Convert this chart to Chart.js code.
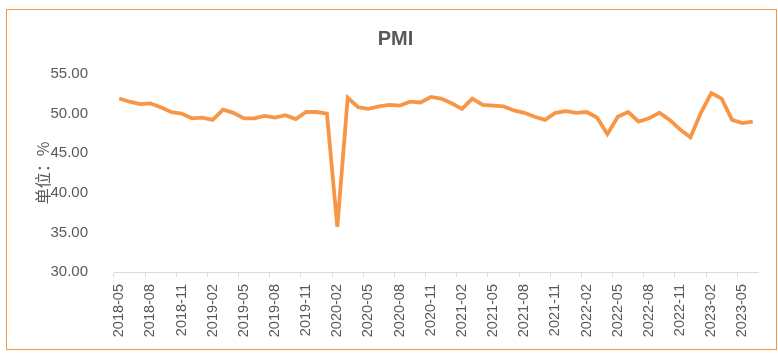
<!DOCTYPE html>
<html>
<head>
<meta charset="utf-8">
<script src="https://cdn.jsdelivr.net/npm/chart.js@4.4.0/dist/chart.umd.min.js"></script>
<style>
html,body{margin:0;padding:0;background:#fff;}
#wrap{position:relative;width:778px;height:359px;}
#frame{position:absolute;left:6px;top:9px;width:769px;height:339px;border:1px solid #F79646;pointer-events:none;}
canvas{position:absolute;left:0;top:0;}
</style>
</head>
<body>
<div id="wrap">
<canvas id="c" width="778" height="359"></canvas>
<div id="frame"></div>
</div>
<script>
const categories = [
 '2018-05','2018-06','2018-07','2018-08','2018-09','2018-10','2018-11','2018-12',
 '2019-01','2019-02','2019-03','2019-04','2019-05','2019-06','2019-07','2019-08','2019-09','2019-10','2019-11','2019-12',
 '2020-01','2020-02','2020-03','2020-04','2020-05','2020-06','2020-07','2020-08','2020-09','2020-10','2020-11','2020-12',
 '2021-01','2021-02','2021-03','2021-04','2021-05','2021-06','2021-07','2021-08','2021-09','2021-10','2021-11','2021-12',
 '2022-01','2022-02','2022-03','2022-04','2022-05','2022-06','2022-07','2022-08','2022-09','2022-10','2022-11','2022-12',
 '2023-01','2023-02','2023-03','2023-04','2023-05','2023-06'
];
const pmiValues = [
 51.9,51.5,51.2,51.3,50.8,50.2,50.0,49.4,
 49.5,49.2,50.5,50.1,49.4,49.4,49.7,49.5,49.8,49.3,50.2,50.2,
 50.0,35.7,52.0,50.8,50.6,50.9,51.1,51.0,51.5,51.4,52.1,51.9,
 51.3,50.6,51.9,51.1,51.0,50.9,50.4,50.1,49.6,49.2,50.1,50.3,
 50.1,50.2,49.5,47.4,49.6,50.2,49.0,49.4,50.1,49.2,48.0,47.0,
 50.1,52.6,51.9,49.2,48.8,49.0
];
const yTicks = [30,35,40,45,50,55];
const titleText = 'PMI';
const yTitle = '单位：%';

const txt = '#595959';
new Chart(document.getElementById('c'), {
  type: 'line',
  data: {
    labels: categories,
    datasets: [{
      label: titleText,
      data: pmiValues,
      borderColor: '#F79646',
      borderWidth: 3.8,
      pointRadius: 0,
      tension: 0,
      fill: false
    }]
  },
  options: {
    responsive: false,
    animation: false,
    layout: { padding: { left: 33, right: 20, top: 18, bottom: 0 } },
    plugins: {
      legend: { display: false },
      tooltip: { enabled: false },
      title: {
        display: true,
        text: titleText,
        color: txt,
        font: { family: 'Liberation Sans, Arial, sans-serif', size: 20, weight: 'bold' },
        padding: { top: 9, bottom: 23 }
      }
    },
    scales: {
      x: {
        type: 'category',
        offset: true,
        afterFit: s => { s.height = 87; },
        grid: {
          offset: true,
          drawOnChartArea: false,
          tickLength: 5,
          color: ctx => (ctx.index !== undefined && ctx.index % 3 === 0) ? '#d9d9d9' : 'rgba(0,0,0,0)'
        },
        border: { display: true, color: '#d9d9d9', width: 1 },
        ticks: {
          autoSkip: false,
          minRotation: 90,
          maxRotation: 90,
          padding: 7,
          color: txt,
          font: { family: 'Liberation Sans, Arial, sans-serif', size: 14.5 },
          callback: function(v, i) { return i % 3 === 0 ? categories[i] : ''; }
        }
      },
      y: {
        min: 30,
        max: 55,
        afterFit: s => { s.width = 81; },
        afterBuildTicks: s => { s.ticks = yTicks.map(v => ({ value: v })); },
        grid: { display: false },
        border: { display: false },
        ticks: {
          padding: 18,
          color: txt,
          font: { family: 'Liberation Sans, Arial, sans-serif', size: 15 },
          callback: v => Number(v).toFixed(2)
        },
        title: {
          display: true,
          text: yTitle,
          color: txt,
          padding: { top: 0, bottom: 0 },
          font: { family: 'Noto Sans CJK SC, sans-serif', size: 16 }
        }
      }
    }
  }
});
</script>
</body>
</html>
